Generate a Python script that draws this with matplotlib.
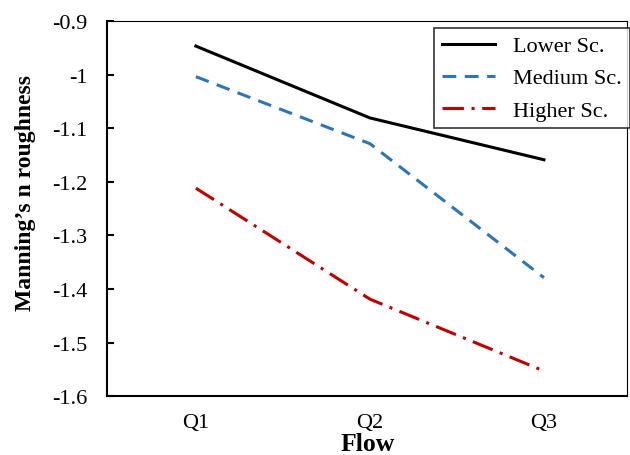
import matplotlib
matplotlib.use('Agg')
import matplotlib.pyplot as plt

# data
flows = ['Q1', 'Q2', 'Q3']
lower = [-0.947, -1.081, -1.159]
medium = [-1.004, -1.129, -1.379]
higher = [-1.212, -1.419, -1.553]
yticks = [-0.9, -1.0, -1.1, -1.2, -1.3, -1.4, -1.5, -1.6]
ytick_labels = ['-0.9', '-1', '-1.1', '-1.2', '-1.3', '-1.4', '-1.5', '-1.6']

plt.rcParams['font.family'] = ['Liberation Serif', 'DejaVu Serif']

fig = plt.figure(figsize=(6.3, 4.56), dpi=100)
ax = fig.add_axes([0.170, 0.129, 0.826, 0.823])

x = [1, 2, 3]
ax.plot(x, lower, color='black', linewidth=2.2, label='Lower Sc.')
ax.plot(x, medium, color='#2E75B6', linewidth=2.2, linestyle=(0, (4.5, 2.8)), label='Medium Sc.')
ax.plot(x, higher, color='#C00000', linewidth=2.2, linestyle=(0, (7, 2.5, 1, 2.5)), label='Higher Sc.')

ax.set_xlim(0.49, 3.48)
ax.set_ylim(-1.6, -0.9)
ax.set_xticks(x)
ax.set_xticklabels(flows, fontsize=16)
ax.set_yticks(yticks)
ax.set_yticklabels(ytick_labels, fontsize=16)
ax.tick_params(axis='x', length=0, pad=12)
ax.tick_params(axis='y', direction='in', length=5, width=1.5, pad=14)

for s in ax.spines.values():
    s.set_linewidth(1.5)
ax.spines['top'].set_linewidth(0.8)
ax.spines['right'].set_linewidth(0.8)

ax.set_xlabel('Flow', fontsize=18.5, fontweight='bold')
ax.xaxis.set_label_coords(0.5, -0.096)
ax.set_ylabel('Manning\u2019s n roughness', fontsize=17, fontweight='bold')
ax.yaxis.set_label_coords(-0.136, 0.545)

leg = ax.legend(loc='upper right', fontsize=16, frameon=True, fancybox=False,
                edgecolor='black', handlelength=2.4, handletextpad=0.8,
                borderpad=0.35, labelspacing=0.52, borderaxespad=0,
                bbox_to_anchor=(1.004, 0.981))
leg.get_frame().set_linewidth(1.2)

plt.savefig('out.png', dpi=100)
plt.close()
